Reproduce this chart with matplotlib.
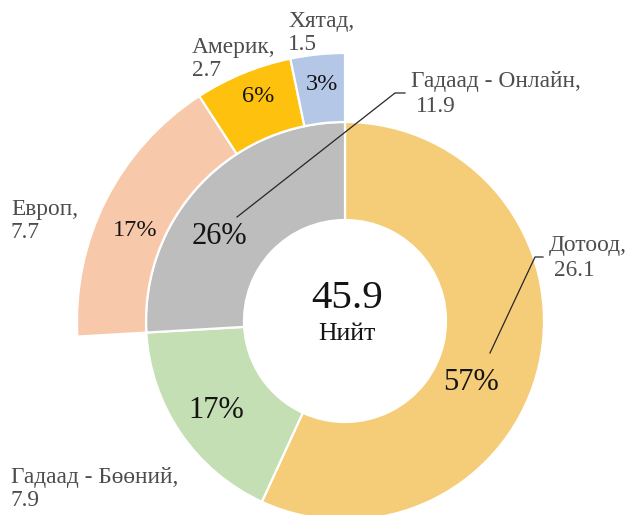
import matplotlib.pyplot as plt

plt.rcParams['font.family'] = ['Liberation Serif', 'DejaVu Serif']

# Inner ring: main channels
main_labels = ['Дотоод', 'Гадаад - Бөөний', 'Гадаад - Онлайн']
main_values = [26.1, 7.9, 11.9]
main_colors = ['#F5CD78', '#C5DFB5', '#BDBDBD']

# Outer ring: online split by region
online_labels = ['Европ', 'Америк', 'Хятад']
online_values = [7.7, 2.7, 1.5]
online_colors = ['#F7C9AA', '#FDC10E', '#B4C7E7']

total = sum(main_values)

W, H = 628, 515
cx, cy = 345, 321
r_in, r_mid, r_out = 101, 199, 268

fig = plt.figure(figsize=(W / 100, H / 100), dpi=100)
ax = fig.add_axes([0, 0, 1, 1])

edge = dict(edgecolor='white', linewidth=1.6)

# y axis is inverted (pixel style), so counterclock=True draws clockwise on screen
ax.pie(main_values, colors=main_colors, radius=r_mid, center=(cx, cy),
       startangle=-90, counterclock=True,
       wedgeprops=dict(width=r_mid - r_in, **edge))

outer_vals = [main_values[0] + main_values[1]] + online_values
wedges, _ = ax.pie(outer_vals, colors=['white'] + online_colors, radius=r_out,
                   center=(cx, cy), startangle=-90, counterclock=True,
                   wedgeprops=dict(width=r_out - r_mid, **edge))
wedges[0].set_visible(False)

ax.set_xlim(0, W)
ax.set_ylim(H, 0)
ax.set_aspect('equal')
ax.axis('off')

lab_color = '#4D4D4D'
pct_color = '#141414'

# centre
ax.text(cx + 2, 298, f'{total:.1f}', ha='center', va='center', fontsize=29.5, color=pct_color)
ax.text(cx + 2, 334, 'Нийт', ha='center', va='center', fontsize=18.5, color=pct_color)

# percentages, inner ring
inner_pos = [(471, 383), (216, 411), (219, 237)]
for (x, y), v in zip(inner_pos, main_values):
    ax.text(x, y, f'{v / total * 100:.0f}%', ha='center', va='center',
            fontsize=22, color=pct_color)

# percentages, outer ring
outer_pos = [(135, 230), (258, 97), (322, 84)]
for (x, y), v in zip(outer_pos, online_values):
    ax.text(x, y, f'{v / total * 100:.0f}%', ha='center', va='center',
            fontsize=17.5, color=pct_color)

# category labels
cat_pos = {
    'Дотоод': (549, 246),
    'Гадаад - Бөөний': (11, 477),
    'Гадаад - Онлайн': (411, 82),
    'Европ': (11, 209),
    'Америк': (192, 47),
    'Хятад': (288, 21),
}
for name, v in zip(main_labels + online_labels, main_values + online_values):
    x, y = cat_pos[name]
    ax.text(x, y, f'{name},', ha='left', va='center', fontsize=16.8, color=lab_color)
    xoff = 5 if name in ('Дотоод', 'Гадаад - Онлайн') else 0
    ax.text(x + xoff, y + 24, f'{v}', ha='left', va='center', fontsize=16.8, color=lab_color)

# leader lines
ax.plot([237, 395, 405], [217, 93, 93], color='#262626', lw=0.9)
ax.plot([490, 535, 543], [353, 257, 257], color='#262626', lw=0.9)

fig.savefig('out.png', dpi=100, facecolor='white')
